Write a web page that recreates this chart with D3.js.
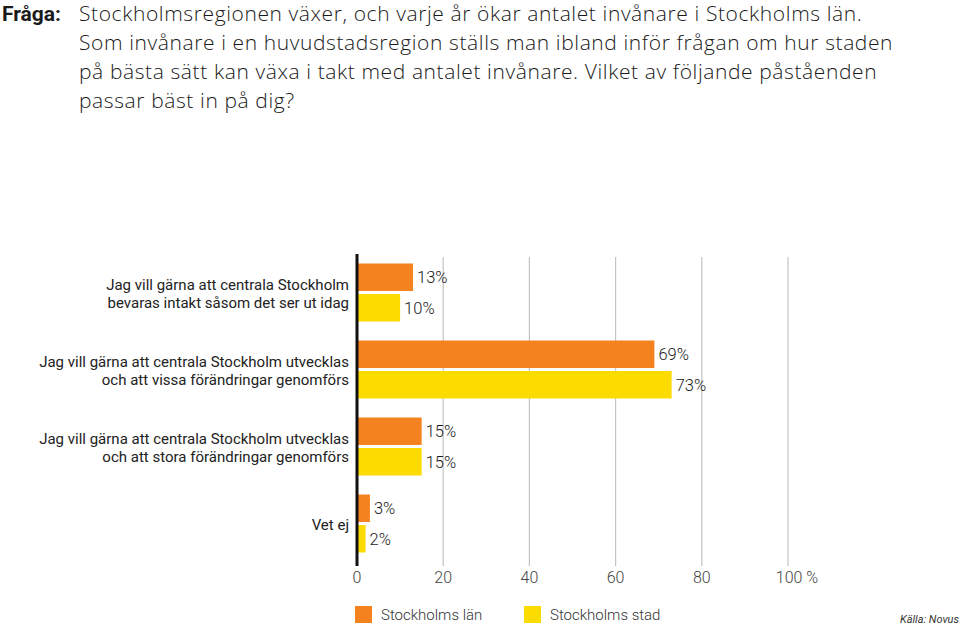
<!DOCTYPE html>
<html>
<head>
<meta charset="utf-8">
<script src="https://cdn.jsdelivr.net/npm/d3@7"></script>
<style>
  html, body { margin: 0; padding: 0; background: #fff; }
  svg { display: block; }
</style>
</head>
<body>
<svg id="chart" width="960" height="632"></svg>
<script>
const titleLabel = "Fråga:";
const titleLines = [
  "Stockholmsregionen växer, och varje år ökar antalet invånare i Stockholms län.",
  "Som invånare i en huvudstadsregion ställs man ibland inför frågan om hur staden",
  "på bästa sätt kan växa i takt med antalet invånare. Vilket av följande påståenden",
  "passar bäst in på dig?"
];
const categories = ["q1", "q2", "q3", "q4"];
const categoryLabels = [
  ["Jag vill gärna att centrala Stockholm", "bevaras intakt såsom det ser ut idag"],
  ["Jag vill gärna att centrala Stockholm utvecklas", "och att vissa förändringar genomförs"],
  ["Jag vill gärna att centrala Stockholm utvecklas", "och att stora förändringar genomförs"],
  ["Vet ej"]
];
const seriesNames = ["Stockholms län", "Stockholms stad"];
const lanValues = [13, 69, 15, 3];
const stadValues = [10, 73, 15, 2];
const tickValues = [0, 20, 40, 60, 80, 100];
const tickLabels = ["0", "20", "40", "60", "80", "100 %"];
const source = "Källa: Novus";

const colors = ["#F4821F", "#FCDB00"];
const font = "Roboto, 'Open Sans', sans-serif";
const titleFont = "'Open Sans', Roboto, sans-serif";
const svg = d3.select("#chart");

// Title
const title = svg.append("g").attr("fill", "#1a1a1a");
title.append("text").attr("x", 2).attr("y", 20.5).attr("font-family", font)
  .attr("font-size", 21).attr("font-weight", 700).text(titleLabel);
title.selectAll("text.line").data(titleLines).join("text")
  .attr("class", "line")
  .attr("x", 79).attr("y", (d, i) => 20.5 + i * 29)
  .attr("font-family", titleFont)
  .attr("font-size", 21).attr("font-weight", 300)
  .attr("letter-spacing", 0.6)
  .text(d => d);

// Scales
const x = d3.scaleLinear().domain([0, 100]).range([357, 788]);
const y = d3.scaleBand().domain(categories).range([254, 562]).padding(0);
const yInner = d3.scaleBand().domain(seriesNames).range([-29, 29]).paddingInner(0.1);

// Grid
svg.append("g").selectAll("line").data(tickValues.filter(v => v > 0)).join("line")
  .attr("x1", d => x(d)).attr("x2", d => x(d))
  .attr("y1", 257).attr("y2", 566)
  .attr("stroke", "#c4c4c4").attr("stroke-width", 1.2);

// Bars
const series = [lanValues, stadValues];
const rows = categories.map((c, i) => ({ c, i }));
const groups = svg.append("g").selectAll("g").data(rows).join("g")
  .attr("transform", d => `translate(0,${y(d.c) + y.bandwidth() / 2})`);

seriesNames.forEach((s, si) => {
  groups.append("rect")
    .attr("x", x(0))
    .attr("y", yInner(s))
    .attr("width", d => x(series[si][d.i]) - x(0))
    .attr("height", yInner.bandwidth())
    .attr("fill", colors[si]);
  groups.append("text")
    .attr("x", d => x(series[si][d.i]) + 4)
    .attr("y", yInner(s) + yInner.bandwidth() / 2)
    .attr("dy", "0.36em")
    .attr("font-family", font)
    .attr("font-size", 16.5)
    .attr("font-weight", 300)
    .attr("fill", "#1a1a1a")
    .text(d => series[si][d.i] + "%");
});

// Category labels
groups.each(function(d) {
  const lines = categoryLabels[d.i];
  const g = d3.select(this);
  const t = g.append("text")
    .attr("text-anchor", "end")
    .attr("font-family", font)
    .attr("font-size", 15)
    .attr("fill", "#222");
  lines.forEach((l, li) => {
    t.append("tspan").attr("x", 349)
      .attr("y", (li - (lines.length - 1) / 2) * 18 + 6.5)
      .text(l);
  });
});

// Axis line
svg.append("line")
  .attr("x1", x(0)).attr("x2", x(0))
  .attr("y1", 254).attr("y2", 566)
  .attr("stroke", "#111").attr("stroke-width", 3);

// Tick labels
svg.append("g").selectAll("text").data(tickValues).join("text")
  .attr("x", (d, i) => x(d) + (i === tickValues.length - 1 ? 9 : 0))
  .attr("y", 583)
  .attr("text-anchor", "middle")
  .attr("font-family", font).attr("font-size", 16).attr("font-weight", 300)
  .attr("fill", "#444")
  .text((d, i) => tickLabels[i]);

// Legend
const legendX = [355, 524];
const legend = svg.append("g").selectAll("g").data(seriesNames).join("g")
  .attr("transform", (d, i) => `translate(${legendX[i]},606)`);
legend.append("rect").attr("width", 17).attr("height", 17).attr("fill", (d, i) => colors[i]);
legend.append("text").attr("x", 26).attr("y", 14)
  .attr("font-family", font).attr("font-size", 15).attr("font-weight", 300)
  .attr("fill", "#333").text(d => d);

// Source
svg.append("text").attr("x", 959).attr("y", 623).attr("text-anchor", "end")
  .attr("font-family", font).attr("font-size", 11).attr("font-style", "italic")
  .attr("fill", "#333").text(source);
</script>
</body>
</html>
